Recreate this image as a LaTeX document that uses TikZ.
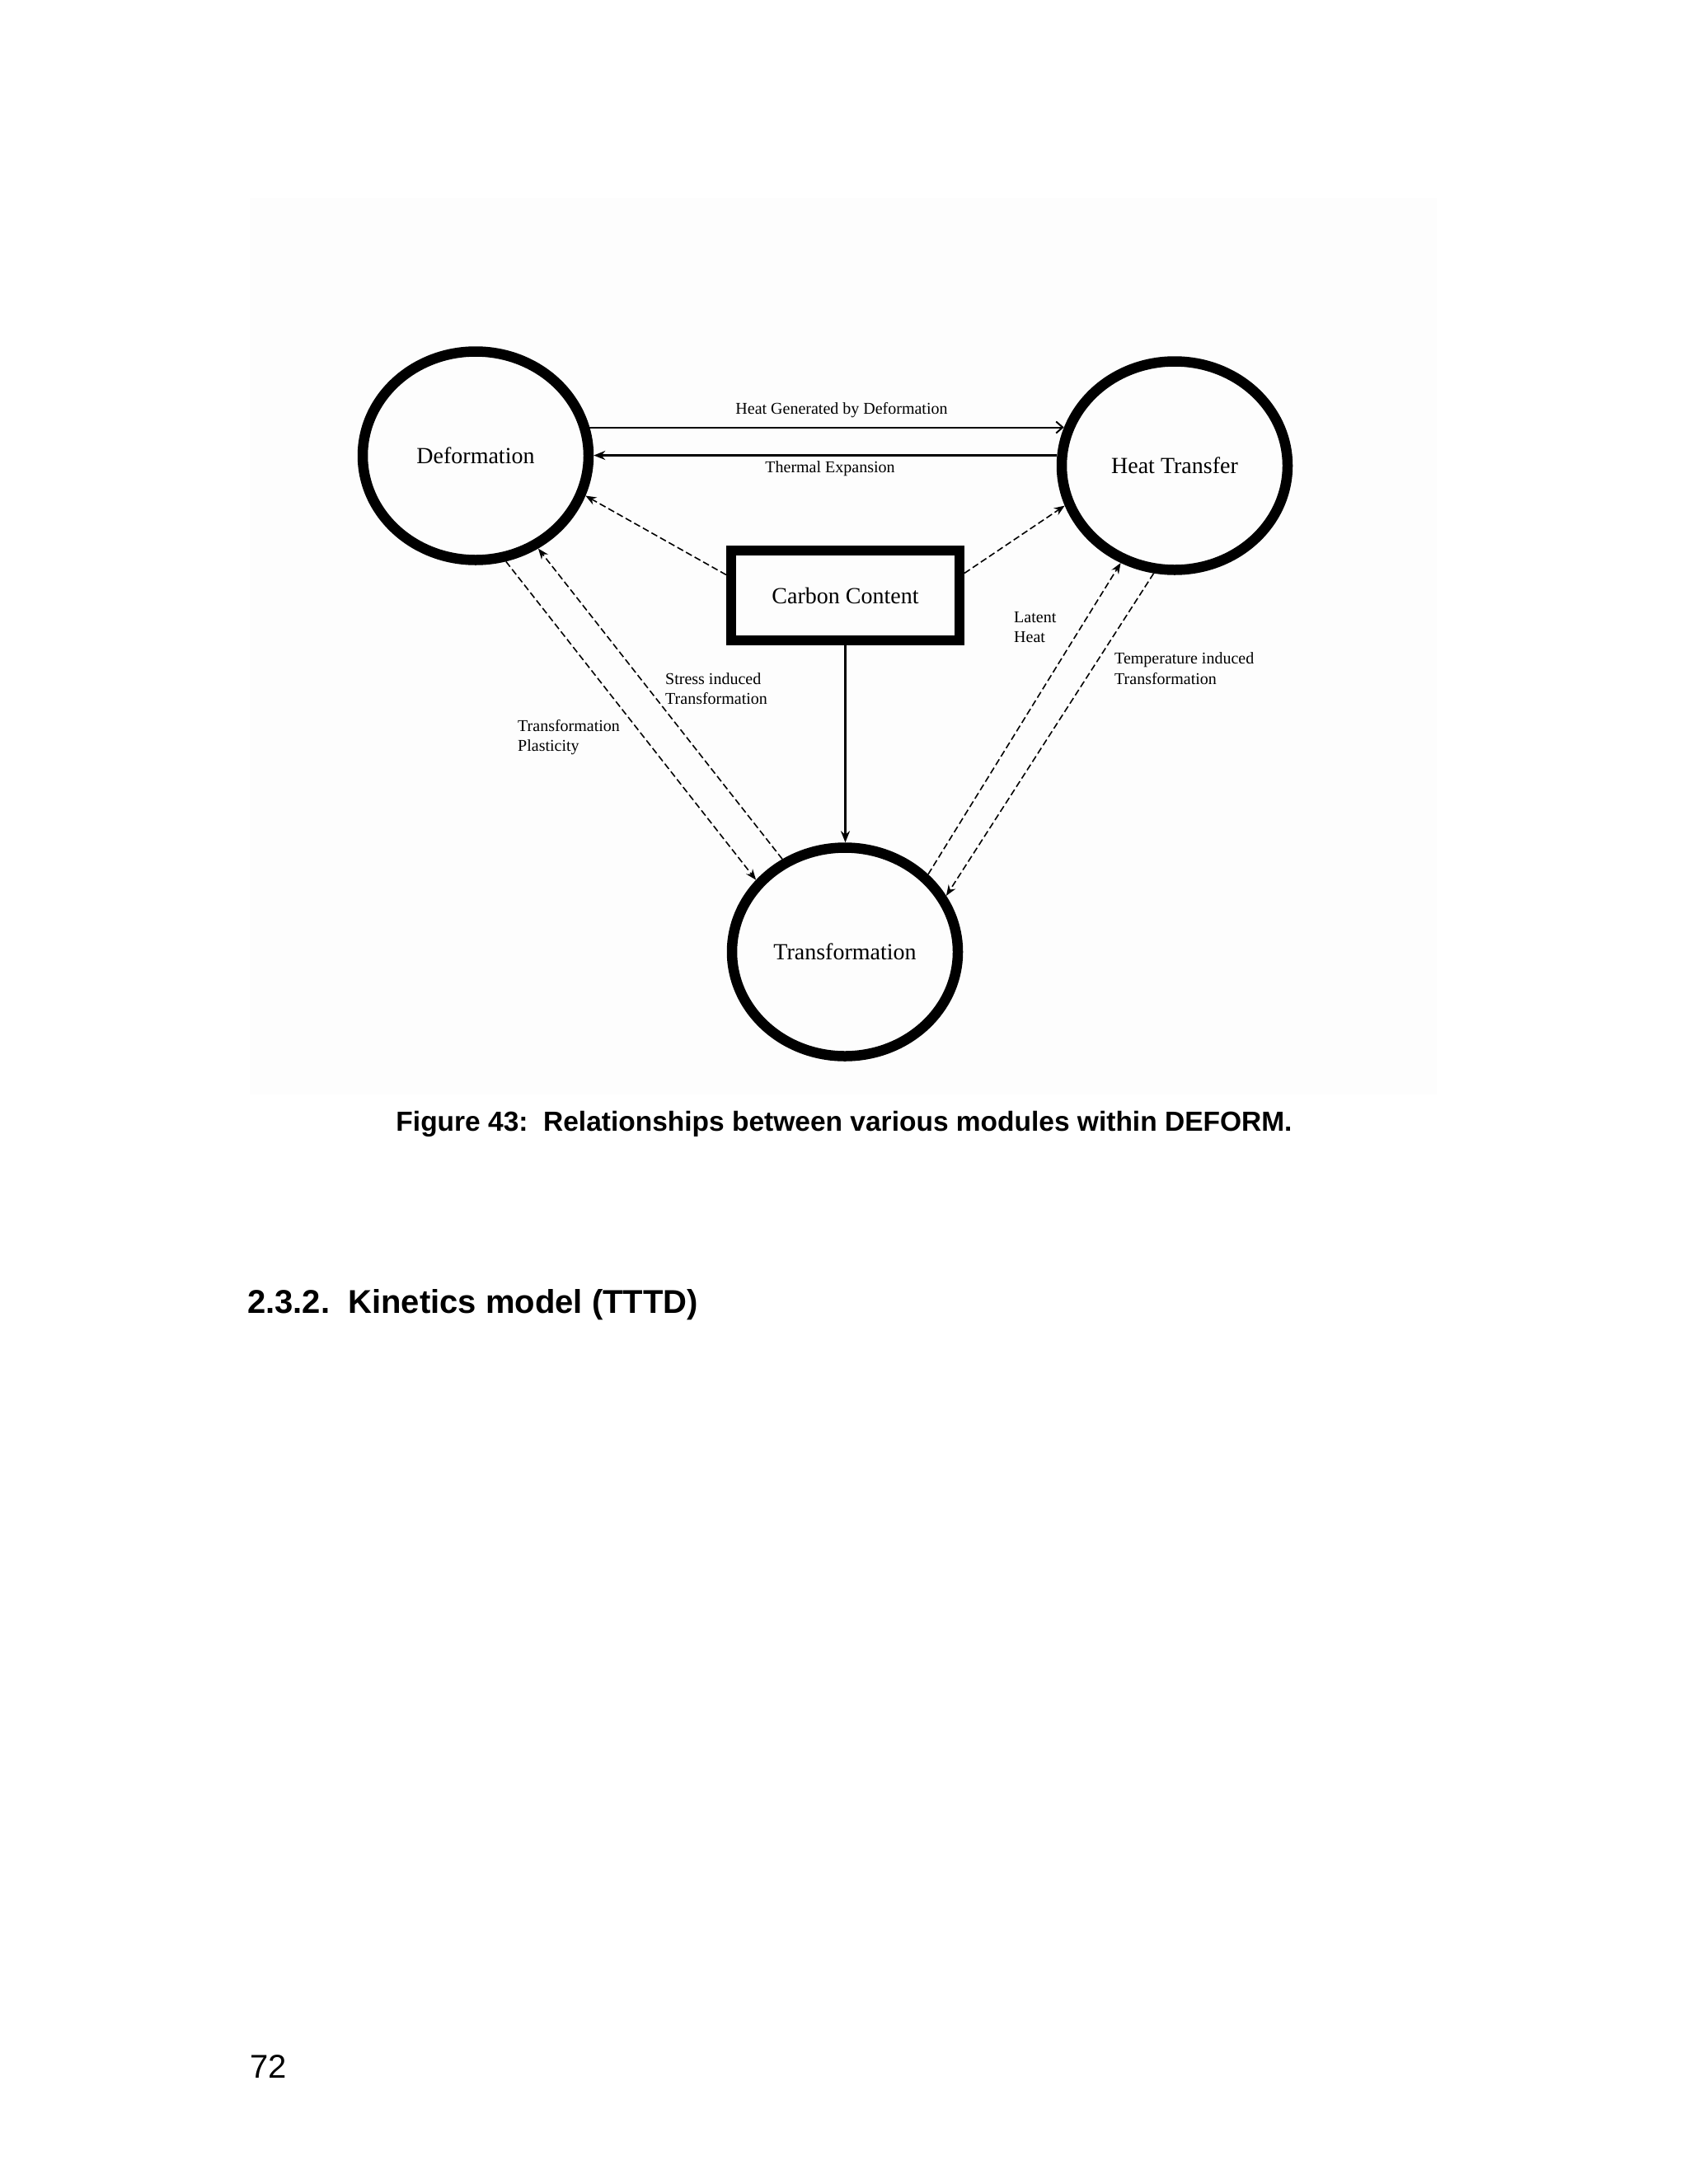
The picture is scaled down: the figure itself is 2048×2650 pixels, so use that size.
\documentclass[tikz,border=0pt]{standalone}
\usepackage{fontspec}
\setmainfont{Liberation Serif}
\newfontfamily\arialf{Liberation Sans}
\usetikzlibrary{shapes.geometric,arrows.meta}
\definecolor{figbg}{HTML}{FDFDFD}
\begin{document}
\begin{tikzpicture}[x=1pt,y=-1pt,
 module/.style={ellipse, draw, line width=12.5pt, minimum width=274pt, minimum height=253pt, inner sep=0pt, font=\fontsize{28}{32}\selectfont},
 ccbox/.style={rectangle, draw, line width=12pt, minimum width=277pt, minimum height=109pt, inner sep=0pt, font=\fontsize{28}{32}\selectfont},
 lab/.style={font=\fontsize{20}{24}\selectfont, inner sep=0pt},
 mlab/.style={lab, anchor=west, align=left},
 solidarrow/.style={line width=2.5pt, -{Stealth[length=14pt,width=11pt]}},
 barbarrow/.style={line width=2pt, -{Straight Barb[length=8pt,width=14pt]}},
 dasharrow/.style={line width=1.6pt, dash pattern=on 8pt off 4pt, -{Stealth[length=13pt,width=10pt]}},
]
\fill[white] (0,0) rectangle (2048,2650);
\useasboundingbox (0,0) rectangle (2048,2650);
\fill[figbg] (303,240) rectangle (1743,1328);

\node[module] (def) at (577,553) {Deformation};
\node[module] (ht) at (1425,565) {Heat Transfer};
\node[module] (tr) at (1025,1155) {Transformation};
\node[ccbox] (cc) at (1025.5,722.5) {Carbon Content};

\draw[barbarrow] (def.14) -- (def.14 -| ht.161);
\draw[solidarrow] (ht.175) -- (ht.175 -| def.east);
\draw[dasharrow] ([yshift=25pt]cc.west) -- (def.-20);
\draw[dasharrow] ([yshift=27pt]cc.east) -- (ht.200);
\draw[solidarrow] (cc.south) -- (cc.south |- tr.north);
\draw[dasharrow] (def.-74) -- (tr.141);
\draw[dasharrow] (tr.124) -- (def.-56);
\draw[dasharrow] (tr.43) -- (ht.-119);
\draw[dasharrow] (ht.-101) -- (tr.29);

\node[lab] (lhg) at (1021,498) {Heat Generated by Deformation};
\node[lab] (lte) at (1007,569) {Thermal Expansion};
\node[mlab] (llh) at (1230,761) {Latent\\Heat};
\node[mlab, font=\fontsize{20}{25}\selectfont] (ltit) at (1352,811) {Temperature induced\\Transformation};
\node[mlab] (lsit) at (807,836) {Stress induced\\Transformation};
\node[mlab] (ltp) at (628,895) {Transformation\\Plasticity};

\node[font=\arialf\bfseries\fontsize{33.5}{40}\selectfont, anchor=base, inner sep=0pt] (cap) at (1024,1372) {Figure 43:\ \ Relationships between various modules within DEFORM.};
\node[font=\arialf\bfseries\fontsize{40}{48}\selectfont, anchor=base west, inner sep=0pt] (head) at (300,1593) {2.3.2.\ \ Kinetics model (TTTD)};
\node[font=\arialf\fontsize{40}{48}\selectfont, anchor=base west, inner sep=0pt] (pnum) at (303,2521) {72};
\end{tikzpicture}
\end{document}
